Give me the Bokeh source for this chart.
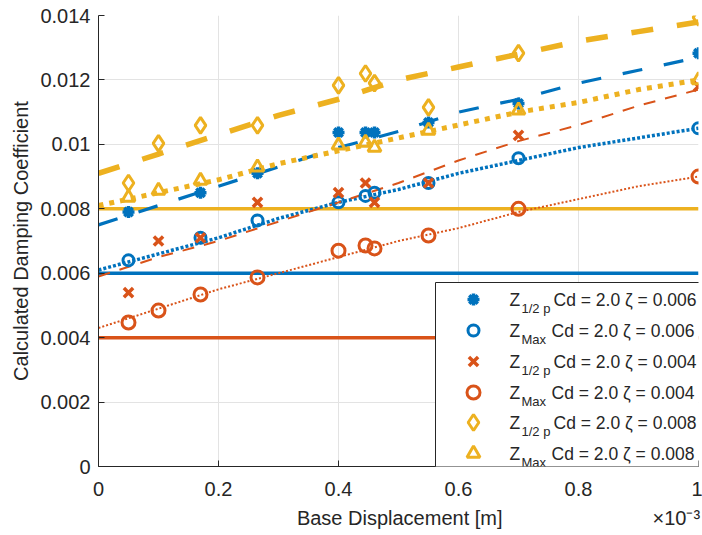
from bokeh.plotting import figure
from bokeh.models import Range1d, FixedTicker, BoxAnnotation, Label
from bokeh.embed import file_html
from bokeh.resources import INLINE

BLUE = "#0072BD"
ORANGE = "#D95319"
YELLOW = "#EDB120"
INK = "#262626"
FONT = "Liberation Sans"

# ---------------- data (x in units of 1e-3 m) ----------------
x_ticks = [0.0, 0.2, 0.4, 0.6, 0.8, 1.0]
x_tick_labels = ["0", "0.2", "0.4", "0.6", "0.8", "1"]
y_ticks = [0.0, 0.002, 0.004, 0.006, 0.008, 0.010, 0.012, 0.014]
y_tick_labels = ["0", "0.002", "0.004", "0.006", "0.008", "0.01", "0.012", "0.014"]
x_label = "Base Displacement [m]"
x_exponent = "\u00d710\u207b\u00b3"
y_label = "Calculated Damping Coefficient"

half006_x = [0.05, 0.17, 0.265, 0.40, 0.445, 0.46, 0.55, 0.70, 1.00]
half006_y = [0.0079, 0.0085, 0.0091, 0.01037, 0.01037, 0.01037, 0.01068, 0.01127, 0.01283]
max006_x = [0.05, 0.17, 0.265, 0.40, 0.445, 0.46, 0.55, 0.70, 1.00]
max006_y = [0.0064, 0.0071, 0.00764, 0.0082, 0.0084, 0.0085, 0.0088, 0.00957, 0.0105]
half004_x = [0.05, 0.10, 0.17, 0.265, 0.40, 0.445, 0.46, 0.55, 0.70, 1.00]
half004_y = [0.0054, 0.0070, 0.0071, 0.0082, 0.0085, 0.0088, 0.0082, 0.0088, 0.01028, 0.0118]
max004_x = [0.05, 0.10, 0.17, 0.265, 0.40, 0.445, 0.46, 0.55, 0.70, 1.00]
max004_y = [0.00447, 0.00484, 0.00534, 0.00587, 0.0067, 0.00686, 0.00677, 0.00717, 0.0080, 0.0090]
half008_x = [0.05, 0.10, 0.17, 0.265, 0.40, 0.445, 0.46, 0.55, 0.70, 1.00]
half008_y = [0.0088, 0.01003, 0.01059, 0.01059, 0.01183, 0.0122, 0.0119, 0.01115, 0.01283, 0.01394]
max008_x = [0.05, 0.10, 0.17, 0.265, 0.40, 0.445, 0.46, 0.55, 0.70, 1.00]
max008_y = [0.00835, 0.00857, 0.00888, 0.00929, 0.00997, 0.01006, 0.0099, 0.01043, 0.01106, 0.0120]

# fitted curves
fit_x = [0.0, 0.1, 0.2, 0.3, 0.4, 0.5, 0.6, 0.7, 0.8, 0.9, 1.0]
fit_half006 = [0.0075, 0.0081, 0.0087, 0.0093, 0.0099, 0.0104, 0.0110, 0.0114, 0.0119, 0.0123, 0.0127]
fit_max006 = [0.0061, 0.0066, 0.0071, 0.0077, 0.0082, 0.0086, 0.0091, 0.0095, 0.0099, 0.0102, 0.0105]
fit_half004 = [0.0059, 0.0065, 0.0070, 0.0076, 0.0082, 0.0088, 0.0095, 0.0101, 0.0106, 0.0112, 0.0117]
fit_max004 = [0.0043, 0.0049, 0.0055, 0.0060, 0.0065, 0.0070, 0.0074, 0.0079, 0.0083, 0.0087, 0.0090]
fit_half008 = [0.0091, 0.0097, 0.0103, 0.0109, 0.0114, 0.0120, 0.0124, 0.0128, 0.0132, 0.0135, 0.0138]
fit_max008 = [0.0081, 0.0085, 0.0089, 0.0094, 0.0098, 0.0102, 0.0106, 0.0110, 0.0113, 0.0117, 0.0120]

zeta_vals = [0.006, 0.004, 0.008]
zeta_colors = [BLUE, ORANGE, YELLOW]

legend_subs = ["1/2 p", "Max", "1/2 p", "Max", "1/2 p", "Max"]
legend_rest = ["Cd = 2.0 \u03b6 = 0.006", "Cd = 2.0 \u03b6 = 0.006",
               "Cd = 2.0 \u03b6 = 0.004", "Cd = 2.0 \u03b6 = 0.004",
               "Cd = 2.0 \u03b6 = 0.008", "Cd = 2.0 \u03b6 = 0.008"]

series = [
    dict(x=half006_x, y=half006_y, fy=fit_half006, color=BLUE, marker="asterisk", size=12, mlw=3.5,
         dash="20 22", flw=3.2),
    dict(x=max006_x, y=max006_y, fy=fit_max006, color=BLUE, marker="circle", size=11, mlw=3,
         dash="3 2", flw=3.5),
    dict(x=half004_x, y=half004_y, fy=fit_half004, color=ORANGE, marker="x", size=13, mlw=3.5,
         dash="12 10", flw=2),
    dict(x=max004_x, y=max004_y, fy=fit_max004, color=ORANGE, marker="circle", size=13, mlw=3,
         dash="2 2", flw=2),
    dict(x=half008_x, y=half008_y, fy=fit_half008, color=YELLOW, marker="diamond", size=16, mlw=3,
         dash="22 24", flw=5.5),
    dict(x=max008_x, y=max008_y, fy=fit_max008, color=YELLOW, marker="triangle", size=13, mlw=3,
         dash="5 6", flw=5),
]

# ---------------- layout constants ----------------
W, H = 702, 535
FL, FR, FT, FB = 98, 4, 15, 69
XMIN, XMAX = x_ticks[0], x_ticks[-1]
YMIN, YMAX = y_ticks[0], y_ticks[-1]
FW, FH = W - FL - FR, H - FT - FB


def px2x(px):
    return XMIN + (px - FL) / FW * (XMAX - XMIN)


def py2y(py):
    return YMIN + (FT + FH - py) / FH * (YMAX - YMIN)


p = figure(width=W, height=H, x_range=Range1d(XMIN, XMAX), y_range=Range1d(YMIN, YMAX),
           output_backend="svg", toolbar_location=None,
           min_border_left=FL, min_border_right=FR, min_border_top=FT, min_border_bottom=FB)
p.outline_line_color = None
p.background_fill_color = "white"
p.border_fill_color = "white"

NB = "\u00a0"
p.xaxis.ticker = FixedTicker(ticks=x_ticks)
p.yaxis.ticker = FixedTicker(ticks=y_ticks)
p.xaxis.major_label_overrides = {t: l for t, l in zip(x_ticks, x_tick_labels)}
p.yaxis.major_label_overrides = {t: l for t, l in zip(y_ticks, y_tick_labels)}
# x label centred under the frame, with the MATLAB-style exponent at the right end
p.xaxis.axis_label = NB * 36 + x_label + NB * 27 + x_exponent
p.yaxis.axis_label = y_label
for ax in (p.xaxis, p.yaxis):
    ax.major_tick_in = 6
    ax.major_tick_out = 0
    ax.minor_tick_line_color = None
    ax.axis_line_color = INK
    ax.major_tick_line_color = INK
    ax.major_label_text_font = FONT
    ax.major_label_text_font_size = "20px"
    ax.major_label_text_color = INK
    ax.axis_label_text_font = FONT
    ax.axis_label_text_font_size = "20px"
    ax.axis_label_text_font_style = "normal"
    ax.axis_label_text_color = INK
p.xaxis.major_label_standoff = 15
p.xaxis.axis_label_standoff = 8
p.yaxis.major_label_standoff = 8
p.yaxis.axis_label_standoff = 5
p.grid.grid_line_color = "#e3e3e3"
p.grid.grid_line_width = 1

# reference damping lines
for z, c in zip(zeta_vals, zeta_colors):
    p.line([XMIN, XMAX], [z, z], line_color=c, line_width=3.5)

# fitted curves
for s in series:
    p.line(fit_x, s["fy"], line_color=s["color"], line_width=s["flw"], line_dash=s["dash"])

# measured points
for s in series:
    p.scatter(s["x"], s["y"], marker=s["marker"], size=s["size"], line_color=s["color"],
              line_width=s["mlw"], fill_alpha=0)

# ---------------- legend ----------------
box = BoxAnnotation(left=px2x(435), right=px2x(700), top=py2y(282), bottom=py2y(472),
                    fill_color="white", fill_alpha=1.0, line_color=INK, line_width=1,
                    line_alpha=1.0)
p.add_layout(box)
row_py = [299, 330, 361, 392, 422, 453]
for i, s in enumerate(series):
    r = p.scatter([px2x(473)], [py2y(row_py[i])], marker=s["marker"], size=s["size"],
                  line_color=s["color"], line_width=s["mlw"], fill_alpha=0)
    r.level = "overlay"
    sub = legend_subs[i]
    rest_px = 553 if sub != "Max" else 551
    p.add_layout(Label(x=px2x(509), y=py2y(row_py[i]), text="Z", text_font=FONT,
                       text_font_size="17.5px", text_color=INK, text_baseline="middle",
                       level="overlay"))
    p.add_layout(Label(x=px2x(521), y=py2y(row_py[i] + 9), text=sub, text_font=FONT,
                       text_font_size="13px", text_color=INK, text_baseline="middle",
                       level="overlay"))
    p.add_layout(Label(x=px2x(rest_px), y=py2y(row_py[i]), text=legend_rest[i], text_font=FONT,
                       text_font_size="17.5px", text_color=INK, text_baseline="middle",
                       level="overlay"))

open("out.html", "w").write(file_html(p, INLINE))
